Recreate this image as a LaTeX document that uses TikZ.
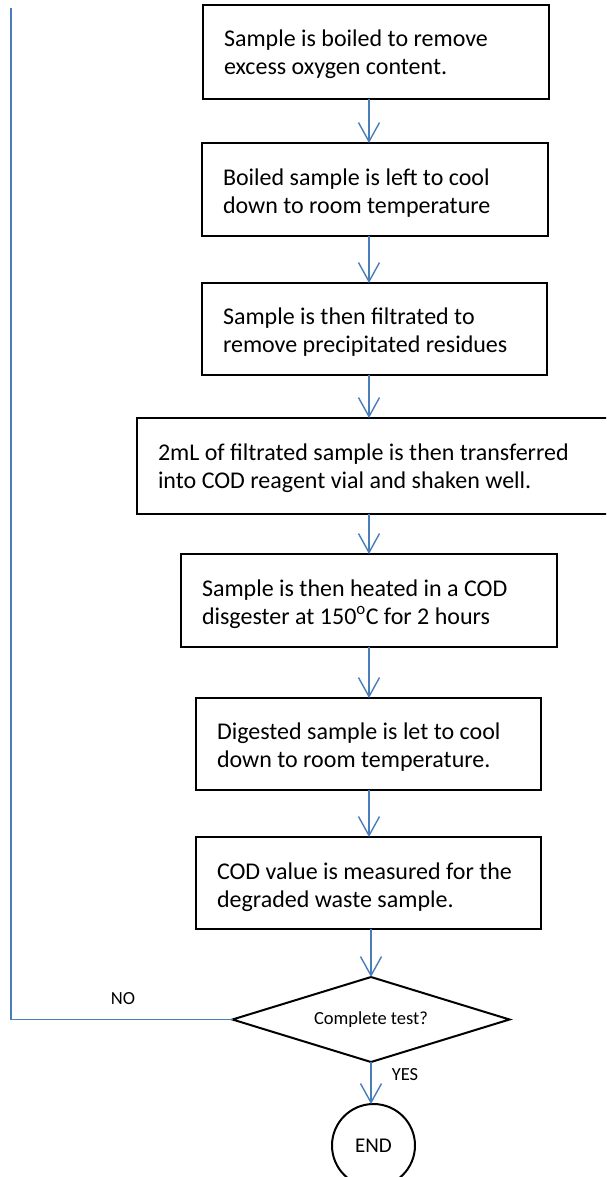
\documentclass[tikz,border=0pt]{standalone}
\usepackage{fontspec}
\setmainfont{Carlito}
\usetikzlibrary{arrows.meta,shapes.geometric}
\definecolor{connblue}{HTML}{4A7EBB}
\newcommand{\bigsz}{\fontsize{24}{28}\selectfont}
\newcommand{\smallsz}{\fontsize{18.5}{22}\selectfont}
\newcommand{\termsz}{\fontsize{21}{25}\selectfont}
\begin{document}
\begin{tikzpicture}[x=1pt,y=-1pt,
  stepbox/.style={draw, line width=2pt, inner sep=0pt, outer sep=0pt,
    anchor=north west, minimum height=93pt},
  boxtext/.style={inner sep=0pt, outer sep=0pt, align=left, font=\bigsz, anchor=north west},
  conn/.style={draw=connblue, line width=1.4pt, -{Straight Barb[length=19pt,width=21pt]}},
  connline/.style={draw=connblue, line width=1.4pt},
  decision/.style={diamond, draw, line width=2pt, minimum width=277pt, minimum height=85pt,
    inner sep=0pt, outer sep=0pt, font=\smallsz, shape aspect=3.26},
  terminal/.style={circle, draw, line width=2pt, minimum size=83pt, inner sep=0pt, outer sep=0pt, font=\termsz},
  lbl/.style={font=\smallsz, inner sep=0pt}
]
\useasboundingbox (0,0) rectangle (606,1177);
\clip (0,0) rectangle (606,1177);

\node[stepbox, minimum width=346pt, minimum height=94pt] (b1) at (203,5) {};
\node[stepbox, minimum width=346pt] (b2) at (202,143) {};
\node[stepbox, minimum width=345pt, minimum height=92pt] (b3) at (202,283) {};
\node[stepbox, minimum width=473pt, minimum height=96pt] (b4) at (137,418) {};
\node[stepbox, minimum width=376pt] (b5) at (181,554) {};
\node[stepbox, minimum width=345pt, minimum height=92pt] (b6) at (196,698) {};
\node[stepbox, minimum width=345pt, minimum height=92pt] (b7) at (196,837) {};

\node[boxtext] (t1) at ([shift={(21,22.4)}]b1.north west)
  {\strut Sample is boiled to remove\\\strut excess oxygen content.};
\node[boxtext] (t2) at ([shift={(21,22.4)}]b2.north west)
  {\strut Boiled sample is left to cool\\\strut down to room temperature};
\node[boxtext] (t3) at ([shift={(21,21.4)}]b3.north west)
  {\strut Sample is then filtrated to\\\strut remove precipitated residues};
\node[boxtext] (t4) at ([shift={(21,22.4)}]b4.north west)
  {\strut 2mL of filtrated sample is then transferred\\\strut into COD reagent vial and shaken well.};
\node[boxtext] (t5) at ([shift={(21,22.4)}]b5.north west)
  {\strut Sample is then heated in a COD\\\strut disgester at 150\textsuperscript{o}C for 2 hours};
\node[boxtext] (t6) at ([shift={(21,21.4)}]b6.north west)
  {\strut Digested sample is let to cool\\\strut down to room temperature.};
\node[boxtext] (t7) at ([shift={(21,22.4)}]b7.north west)
  {\strut COD value is measured for the\\\strut degraded waste sample.};

\node[decision] (d) at (371,1019.5) {Complete test?};
\node[terminal] (e) at (373.5,1145.5) {END};

\coordinate (ax) at (369,0);
\coordinate (ltop) at (11,8);

\draw[conn] (b1.south -| ax) -- (b2.north -| ax);
\draw[conn] (b2.south -| ax) -- (b3.north -| ax);
\draw[conn] (b3.south -| ax) -- (b4.north -| ax);
\draw[conn] (b4.south -| ax) -- (b5.north -| ax);
\draw[conn] (b5.south -| ax) -- (b6.north -| ax);
\draw[conn] (b6.south -| ax) -- (b7.north -| ax);
\draw[conn] (b7.south -| d.north) -- (d.north);
\draw[conn] (d.south) -- (d.south |- e.north);
\draw[connline] (d.west) -| (ltop);

\node[lbl] (no) at (123,999) {NO};
\node[lbl] (yes) at (405,1075) {YES};
\end{tikzpicture}
\end{document}
